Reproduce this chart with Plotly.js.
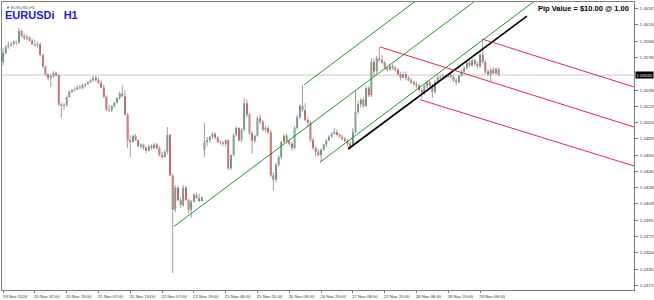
<!DOCTYPE html>
<html><head><meta charset="utf-8">
<script src="https://cdn.plot.ly/plotly-3.0.1.min.js"></script>
<style>html,body{margin:0;padding:0;background:#fff}#chart{width:654px;height:300px}</style>
</head><body><div id="chart"></div>
<script>
// EURUSDi H1 hourly bars, 19 Nov 19:00 -> 29 Nov 15:00 (bar index 0..187)
const openP = [
1.0571,1.0581,1.0588,1.0590,1.0591,1.0594,1.0593,1.0606,1.0600,1.0598,
1.0599,1.0595,1.0591,1.0590,1.0591,1.0579,1.0566,1.0557,1.0553,1.0555,
1.0558,1.0556,1.0523,1.0521,1.0522,1.0531,1.0537,1.0539,1.0540,1.0542,
1.0541,1.0545,1.0546,1.0548,1.0550,1.0553,1.0550,1.0547,1.0542,1.0531,
1.0517,1.0516,1.0521,1.0525,1.0530,1.0535,1.0532,1.0511,1.0482,1.0480,
1.0487,1.0482,1.0475,1.0477,1.0473,1.0470,1.0475,1.0473,1.0477,1.0473,
1.0465,1.0463,1.0469,1.0488,1.0442,1.0403,1.0428,1.0414,1.0408,1.0428,
1.0414,1.0403,1.0412,1.0420,1.0416,1.0413,1.0471,1.0480,1.0482,1.0486,
1.0489,1.0485,1.0480,1.0479,1.0478,1.0482,1.0450,1.0465,1.0488,1.0496,
1.0482,1.0494,1.0524,1.0511,1.0490,1.0481,1.0487,1.0507,1.0503,1.0494,
1.0496,1.0491,1.0442,1.0437,1.0454,1.0463,1.0480,1.0487,1.0481,1.0478,
1.0473,1.0496,1.0508,1.0521,1.0516,1.0505,1.0502,1.0482,1.0473,1.0469,
1.0465,1.0471,1.0477,1.0482,1.0486,1.0489,1.0491,1.0488,1.0486,1.0483,
1.0481,1.0478,1.0475,1.0491,1.0514,1.0523,1.0528,1.0521,1.0541,1.0533,
1.0571,1.0560,1.0575,1.0573,1.0570,1.0564,1.0562,1.0566,1.0564,1.0562,
1.0557,1.0553,1.0557,1.0553,1.0550,1.0548,1.0546,1.0544,1.0539,1.0536,
1.0544,1.0548,1.0544,1.0537,1.0548,1.0553,1.0554,1.0555,1.0554,1.0556,
1.0554,1.0550,1.0548,1.0555,1.0560,1.0564,1.0570,1.0567,1.0573,1.0569,
1.0566,1.0579,1.0571,1.0560,1.0557,1.0562,1.0558,1.0563];
const highP = [
1.0587,1.0590,1.0594,1.0594,1.0596,1.0595,1.0610,1.0608,1.0603,1.0602,
1.0600,1.0597,1.0596,1.0594,1.0593,1.0580,1.0567,1.0558,1.0557,1.0561,
1.0560,1.0557,1.0525,1.0524,1.0532,1.0539,1.0540,1.0542,1.0544,1.0545,
1.0546,1.0547,1.0549,1.0552,1.0555,1.0555,1.0553,1.0550,1.0545,1.0533,
1.0522,1.0520,1.0525,1.0531,1.0537,1.0545,1.0539,1.0513,1.0488,1.0488,
1.0489,1.0483,1.0479,1.0478,1.0475,1.0477,1.0478,1.0479,1.0479,1.0475,
1.0469,1.0471,1.0497,1.0489,1.0444,1.0431,1.0430,1.0417,1.0431,1.0430,
1.0416,1.0414,1.0422,1.0422,1.0421,1.0418,1.0502,1.0486,1.0487,1.0491,
1.0491,1.0487,1.0482,1.0481,1.0483,1.0483,1.0466,1.0490,1.0498,1.0497,
1.0496,1.0530,1.0528,1.0513,1.0492,1.0488,1.0510,1.0511,1.0505,1.0498,
1.0498,1.0494,1.0446,1.0456,1.0465,1.0481,1.0489,1.0489,1.0483,1.0480,
1.0498,1.0511,1.0523,1.0545,1.0524,1.0508,1.0504,1.0485,1.0475,1.0472,
1.0473,1.0478,1.0483,1.0488,1.0491,1.0496,1.0494,1.0490,1.0488,1.0486,
1.0483,1.0480,1.0496,1.0539,1.0527,1.0530,1.0531,1.0544,1.0544,1.0575,
1.0575,1.0578,1.0588,1.0579,1.0572,1.0566,1.0569,1.0569,1.0566,1.0564,
1.0560,1.0560,1.0560,1.0555,1.0553,1.0550,1.0548,1.0546,1.0541,1.0545,
1.0550,1.0550,1.0546,1.0550,1.0555,1.0556,1.0557,1.0557,1.0558,1.0557,
1.0556,1.0553,1.0557,1.0562,1.0566,1.0572,1.0573,1.0575,1.0575,1.0571,
1.0582,1.0597,1.0573,1.0562,1.0564,1.0565,1.0565,1.0565];
const lowP = [
1.0567,1.0579,1.0586,1.0588,1.0589,1.0590,1.0591,1.0599,1.0596,1.0596,
1.0594,1.0590,1.0588,1.0587,1.0577,1.0564,1.0555,1.0550,1.0542,1.0553,
1.0554,1.0521,1.0507,1.0516,1.0520,1.0530,1.0535,1.0537,1.0539,1.0540,
1.0540,1.0542,1.0545,1.0547,1.0549,1.0549,1.0546,1.0541,1.0530,1.0515,
1.0514,1.0514,1.0519,1.0523,1.0528,1.0531,1.0510,1.0473,1.0463,1.0479,
1.0481,1.0474,1.0472,1.0471,1.0467,1.0469,1.0471,1.0472,1.0471,1.0464,
1.0460,1.0462,1.0466,1.0441,1.0331,1.0400,1.0412,1.0405,1.0406,1.0413,
1.0399,1.0394,1.0411,1.0415,1.0411,1.0412,1.0463,1.0475,1.0479,1.0483,
1.0483,1.0479,1.0477,1.0475,1.0475,1.0448,1.0448,1.0464,1.0486,1.0480,
1.0480,1.0492,1.0508,1.0488,1.0467,1.0479,1.0486,1.0500,1.0492,1.0491,
1.0489,1.0440,1.0425,1.0434,1.0452,1.0460,1.0478,1.0479,1.0475,1.0470,
1.0471,1.0494,1.0506,1.0514,1.0503,1.0498,1.0480,1.0471,1.0463,1.0464,
1.0457,1.0470,1.0474,1.0481,1.0485,1.0488,1.0487,1.0485,1.0482,1.0480,
1.0474,1.0472,1.0474,1.0490,1.0512,1.0519,1.0519,1.0520,1.0531,1.0531,
1.0554,1.0557,1.0571,1.0569,1.0562,1.0560,1.0561,1.0562,1.0560,1.0555,
1.0550,1.0552,1.0550,1.0549,1.0546,1.0544,1.0541,1.0537,1.0529,1.0533,
1.0541,1.0541,1.0530,1.0535,1.0546,1.0550,1.0552,1.0552,1.0553,1.0552,
1.0548,1.0545,1.0547,1.0554,1.0558,1.0562,1.0565,1.0566,1.0566,1.0564,
1.0564,1.0569,1.0557,1.0555,1.0548,1.0557,1.0557,1.0555];
const closeP = [
1.0581,1.0588,1.0590,1.0591,1.0594,1.0593,1.0606,1.0600,1.0598,1.0599,
1.0595,1.0591,1.0590,1.0591,1.0579,1.0566,1.0557,1.0553,1.0555,1.0558,
1.0556,1.0523,1.0521,1.0522,1.0531,1.0537,1.0539,1.0540,1.0542,1.0541,
1.0545,1.0546,1.0548,1.0550,1.0553,1.0550,1.0547,1.0542,1.0531,1.0517,
1.0516,1.0521,1.0525,1.0530,1.0535,1.0532,1.0511,1.0482,1.0480,1.0487,
1.0482,1.0475,1.0477,1.0473,1.0470,1.0475,1.0473,1.0477,1.0473,1.0465,
1.0463,1.0469,1.0488,1.0442,1.0403,1.0428,1.0414,1.0408,1.0428,1.0414,
1.0403,1.0412,1.0420,1.0416,1.0413,1.0417,1.0480,1.0482,1.0486,1.0489,
1.0485,1.0480,1.0479,1.0478,1.0482,1.0450,1.0465,1.0488,1.0496,1.0482,
1.0494,1.0524,1.0511,1.0490,1.0481,1.0487,1.0507,1.0503,1.0494,1.0496,
1.0491,1.0442,1.0437,1.0454,1.0463,1.0480,1.0487,1.0481,1.0478,1.0473,
1.0496,1.0508,1.0521,1.0516,1.0505,1.0502,1.0482,1.0473,1.0469,1.0465,
1.0471,1.0477,1.0482,1.0486,1.0489,1.0491,1.0488,1.0486,1.0483,1.0481,
1.0478,1.0475,1.0491,1.0514,1.0523,1.0528,1.0521,1.0541,1.0533,1.0571,
1.0560,1.0575,1.0573,1.0570,1.0564,1.0562,1.0566,1.0564,1.0562,1.0557,
1.0553,1.0557,1.0553,1.0550,1.0548,1.0546,1.0544,1.0539,1.0536,1.0544,
1.0548,1.0544,1.0537,1.0548,1.0553,1.0554,1.0555,1.0554,1.0556,1.0554,
1.0550,1.0548,1.0555,1.0560,1.0564,1.0570,1.0567,1.0573,1.0569,1.0566,
1.0579,1.0571,1.0560,1.0557,1.0562,1.0558,1.0563,1.0556];

const xTickIdx  = [0,12,24,36,48,60,72,84,96,108,120,132,144,156,168,180];
const xTickText = ['19 Nov 2024','20 Nov 07:00','20 Nov 19:00','21 Nov 07:00','21 Nov 19:00',
  '22 Nov 07:00','22 Nov 19:00','25 Nov 08:00','25 Nov 20:00','26 Nov 08:00','26 Nov 20:00',
  '27 Nov 08:00','27 Nov 20:00','28 Nov 08:00','28 Nov 20:00','29 Nov 08:00'];
const yTickVals = [1.06315,1.06130,1.05940,1.05760,1.05390,1.05205,1.05020,1.04835,1.04650,
  1.04465,1.04280,1.04095,1.03910,1.03725,1.03540,1.03350,1.03170];
const currentPrice = 1.05560;

// drawn channel / trend lines: [start, end] in (bar index, price)
const greenA_x = [113.6, 156.0], greenA_y = [1.0545, 1.0641];
const greenB_x = [64.5, 178.5],  greenB_y = [1.0384, 1.0641];
const greenC_x = [119.6, 200.5], greenC_y = [1.0457, 1.0640];
const black_x  = [130.2, 197.7], black_y  = [1.0472, 1.0623];
const red1_x = [142.3, 238.1], red1_y = [1.0588, 1.0497];
const red2_x = [180.75, 238.1], red2_y = [1.0597, 1.05425];
const red3_x = [157.4, 238.1], red3_y = [1.0528, 1.04527];

const idx = closeP.map((_, i) => i);
const wx = [], wy = [];
idx.forEach(i => { wx.push(i, i, null); wy.push(lowP[i], highP[i], null); });

const GREEN = '#1f9a1f', RED = '#e8264e';
function line(x, y, color, w) {
  return {type:'scatter', mode:'lines', x:x, y:y, line:{color:color, width:w}, hoverinfo:'skip'};
}
const traces = [
  {type:'scatter', mode:'lines', x:wx, y:wy, line:{color:'#a0a0a0', width:1}, hoverinfo:'skip', connectgaps:false},
  {type:'candlestick', x:idx, open:openP, high:highP, low:lowP, close:closeP, whiskerwidth:0,
   increasing:{line:{color:'rgba(0,0,0,0)', width:0}, fillcolor:'#1f7f45'},
   decreasing:{line:{color:'rgba(0,0,0,0)', width:0}, fillcolor:'#d40f14'}, hoverinfo:'skip'},
  line(greenA_x, greenA_y, GREEN, 1),
  line(greenB_x, greenB_y, GREEN, 1),
  line(greenC_x, greenC_y, GREEN, 1),
  line(black_x, black_y, '#000000', 1.6),
  line(red1_x, red1_y, RED, 1),
  line(red2_x, red2_y, RED, 1),
  line(red3_x, red3_y, RED, 1)
];

const tickFont = {family:'Liberation Sans, Arial, sans-serif', size:4.3, color:'#333'};
const layout = {
  width:654, height:300,
  margin:{l:2, r:20, t:2, b:10, pad:0},
  paper_bgcolor:'#ffffff', plot_bgcolor:'#ffffff',
  showlegend:false, boxgap:0.1,
  xaxis:{range:[-0.4, 238.1], tickmode:'array', tickvals:xTickIdx, ticktext:xTickText,
    ticks:'outside', ticklen:2, tickcolor:'#777', showgrid:false, zeroline:false,
    showline:true, linecolor:'#808080', linewidth:1, mirror:true, tickfont:tickFont,
    ticklabelshift:12, ticklabelstandoff:0, rangeslider:{visible:false}, fixedrange:true},
  yaxis:{range:[1.03117, 1.06391], side:'right', tickmode:'array', tickvals:yTickVals,
    ticktext:yTickVals.map(v => v.toFixed(5)), ticks:'outside', ticklen:3, tickcolor:'#777',
    showgrid:false, zeroline:false, showline:true, linecolor:'#808080', linewidth:1, mirror:true,
    tickfont:tickFont, ticklabelstandoff:1, fixedrange:true},
  shapes:[{type:'line', layer:'below', xref:'paper', x0:0, x1:1, yref:'y', y0:currentPrice, y1:currentPrice,
    line:{color:'#c8c8c8', width:1}}],
  annotations:[
    {xref:'paper', yref:'paper', x:0, y:1, xanchor:'left', yanchor:'top', xshift:2, yshift:-1,
     text:'\u25BC EURUSDi,H1', showarrow:false, font:{family:'Liberation Sans, Arial', size:4, color:'#555'}},
    {xref:'paper', yref:'paper', x:0, y:1, xanchor:'left', yanchor:'top', xshift:1, yshift:-5,
     text:'<b>EURUSDi\u00a0\u00a0\u00a0H1</b>', showarrow:false,
     font:{family:'Liberation Sans, Arial', size:11, color:'#1a1ad8'}},
    {xref:'paper', yref:'paper', x:0.845, y:1, xanchor:'left', yanchor:'top', yshift:0,
     text:'<b>Pip Value = $10.00 @ 1.00</b>', showarrow:false,
     font:{family:'Liberation Sans, Arial', size:7.5, color:'#000'}},
    {xref:'paper', yref:'y', x:1, y:currentPrice, xanchor:'left', yanchor:'middle', xshift:1,
     text:currentPrice.toFixed(5), showarrow:false, bgcolor:'#000', borderpad:0.5,
     font:{family:'Liberation Sans, Arial', size:4.3, color:'#fff'}}
  ]
};
Plotly.newPlot('chart', traces, layout, {staticPlot:true, displayModeBar:false});
</script>
</body></html>
